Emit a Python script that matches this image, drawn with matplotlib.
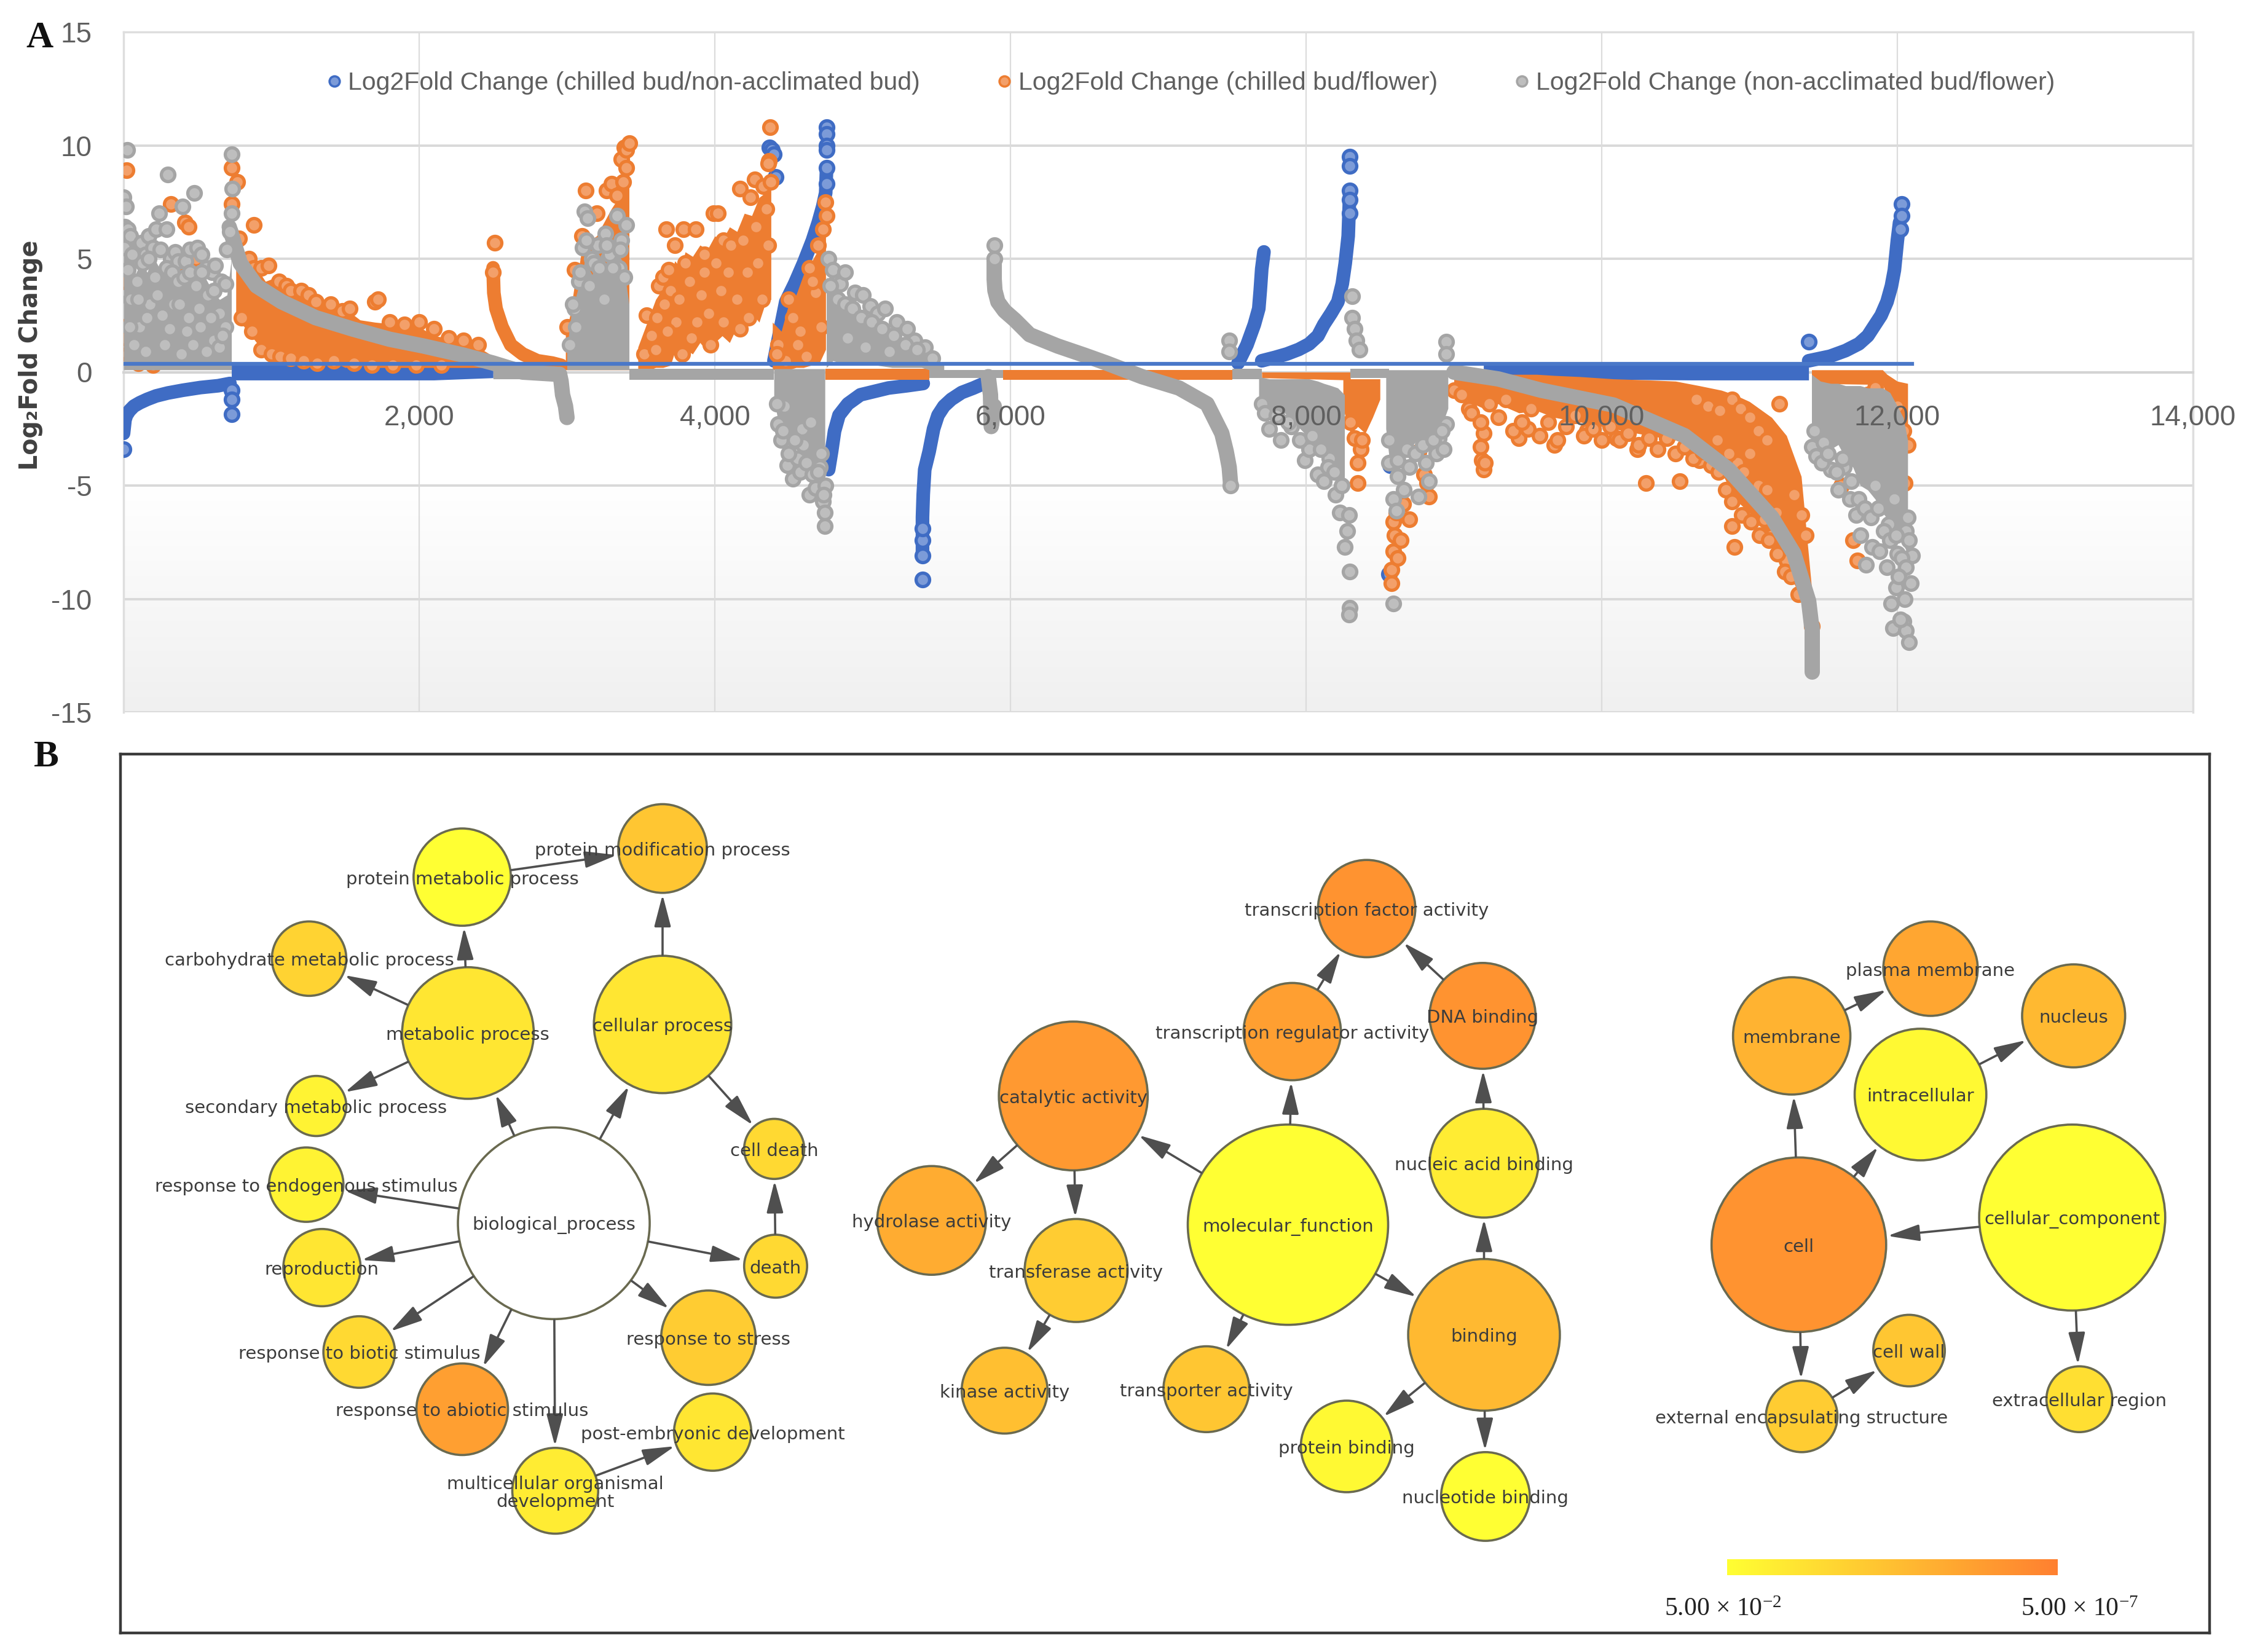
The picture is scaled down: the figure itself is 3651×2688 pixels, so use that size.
import matplotlib
matplotlib.use("Agg")
import matplotlib.pyplot as plt
from matplotlib.colors import LinearSegmentedColormap
from matplotlib.lines import Line2D
from matplotlib.patches import Circle
import numpy as np

W, H = 3651, 2688
plt.rcParams['font.family'] = ['Liberation Sans', 'DejaVu Sans']
plt.rcParams['mathtext.default'] = 'regular'
plt.rcParams['axes.unicode_minus'] = False

# ---------- panel A values ----------
x_ticks = [2000, 4000, 6000, 8000, 10000, 12000, 14000]
y_ticks = [-15, -10, -5, 0, 5, 10, 15]
legend_names = ['Log2Fold Change (chilled bud/non-acclimated bud)',
                'Log2Fold Change (chilled bud/flower)',
                'Log2Fold Change (non-acclimated bud/flower)']

# flat blue line
line_x = [0, 12100]
line_y = [0.37, 0.37]

# blue series
blue_c1_x = [0, 5, 10, 20, 40, 70, 110, 160, 220, 300, 400, 520, 640, 720]
blue_c1_y = [-2.7, -2.4, -2.1, -1.9, -1.7, -1.5, -1.35, -1.2, -1.05, -0.92, -0.8, -0.68, -0.6, -0.5]
blue_c2_x = [4400, 4480, 4540, 4600, 4660, 4700, 4730, 4750, 4755]
blue_c2_y = [0.5, 3.1, 3.9, 4.8, 5.8, 6.6, 7.3, 7.9, 8.8]
blue_c3_x = [4770, 4790, 4810, 4840, 4900, 4985, 5080, 5175, 5300, 5410]
blue_c3_y = [-4.3, -3.5, -2.6, -1.9, -1.4, -1.0, -0.85, -0.7, -0.6, -0.5]
blue_c4_x = [5405, 5405, 5410, 5420, 5450, 5480, 5510, 5550, 5600, 5670, 5750, 5820]
blue_c4_y = [-8.1, -6.4, -5.4, -4.3, -3.5, -2.5, -1.9, -1.5, -1.2, -0.9, -0.7, -0.5]
blue_c5_x = [7540, 7600, 7650, 7680, 7690, 7700, 7715]
blue_c5_y = [0.4, 1.2, 2.1, 2.8, 3.6, 4.55, 5.3]
blue_c6_x = [7700, 7790, 7870, 7950, 8020, 8080, 8120, 8170, 8215, 8245, 8265, 8285, 8295]
blue_c6_y = [0.5, 0.65, 0.8, 1.0, 1.24, 1.6, 2.1, 2.6, 3.1, 3.9, 4.8, 6, 7.9]
blue_c7_x = [11400, 11545, 11650, 11740, 11800, 11840, 11890, 11930, 11960, 11980, 12000, 12015]
blue_c7_y = [0.5, 0.7, 0.95, 1.25, 1.6, 2, 2.5, 3.1, 3.8, 4.5, 5.8, 6.6]
blue_b1_x = [730, 1500, 2100, 2500]
blue_b1_lo = [-0.35, -0.35, -0.35, -0.25]
blue_b1_hi = [0.35, 0.35, 0.35, 0.35]
blue_b2_x = [9200, 9600, 10000, 10600, 11400]
blue_b2_lo = [-0.1, -0.25, -0.32, -0.35, -0.35]
blue_b2_hi = [0.35, 0.35, 0.35, 0.35, 0.35]
blue_pts_x = [0, 730, 730, 730, 4370, 4385, 4400, 4410, 4755, 4755, 4755, 4755, 4755, 4755, 5405, 5405, 5405, 5405,
              8295, 8295, 8295, 8295, 8295, 11400, 12030, 12030, 12020, 8570, 8560]
blue_pts_y = [-3.4, -0.8, -1.2, -1.85, 9.9, 9.8, 9.6, 8.6, 10.8, 10.5, 10.0, 9.8, 9.0, 8.3, -9.15, -8.1, -7.4, -6.9,
              9.5, 9.1, 8.0, 7.6, 7.0, 1.35, 7.4, 6.9, 6.3, -4.1, -8.9]

# orange series
orange_c1_x = [2500, 2505, 2520, 2560, 2620, 2700, 2800, 2900, 2960]
orange_c1_y = [4.6, 3.5, 2.8, 2.0, 1.2, 0.8, 0.5, 0.4, 0.3]
orange_b1_x = [760, 830, 900, 960, 1000, 1060, 1100, 1200, 1300, 1400, 1500, 1600, 1700, 1850, 2000, 2100, 2200, 2300, 2400, 2500, 2600]
orange_b1_lo = [2.4, 1.9, 1.3, 0.9, 1.0, 0.6, 0.8, 0.4, 0.3, 0.5, 0.2, 0.3, 0.2, 0.2, 0.2, 0.2, 0.2, 0.2, 0.2, 0.2, 0.2]
orange_b1_hi = [5.6, 4.8, 4.6, 4.0, 4.1, 3.6, 3.7, 3.3, 3.2, 2.9, 2.8, 2.3, 2.2, 2.1, 2.0, 1.6, 1.5, 1.3, 1.1, 0.7, 0.3]
orange_b2_x = [2990, 3020, 3050, 3080, 3100, 3150, 3200, 3250, 3300, 3340, 3370, 3400, 3420]
orange_b2_lo = [0.1, 0.1, 0.1, 0.1, 0.1, 0.1, 0.1, 0.1, 0.1, 0.1, 0.1, 0.1, 0.1]
orange_b2_hi = [1.6, 2.5, 3.8, 4.6, 5.4, 5.8, 6.0, 6.6, 7.2, 7.6, 8.2, 9.0, 9.2]
orange_b3_x = [3480, 3520, 3560, 3600, 3650, 3700, 3730, 3770, 3800, 3850, 3900, 3950, 4000, 4050, 4100, 4150, 4200, 4250, 4300, 4340, 4380]
orange_b3_lo = [0.1, 0.1, 0.1, 0.2, 0.2, 0.3, 0.9, 0.5, 1.0, 0.8, 1.3, 0.9, 1.3, 1.6, 1.3, 2.0, 1.7, 2.6, 2.2, 3.0, 3.2]
orange_b3_hi = [1.1, 1.8, 2.5, 3.2, 3.7, 4.3, 4.9, 4.6, 5.3, 5.1, 5.6, 5.4, 6.0, 5.8, 6.4, 6.2, 7.0, 6.9, 7.7, 7.9, 8.9]
orange_b4_x = [4390, 4450, 4500, 4550, 4600, 4650, 4700, 4750]
orange_b4_lo = [0.1, 0.1, 0.1, 0.2, 0.2, 0.3, 0.3, 1]
orange_b4_hi = [2.2, 1.8, 3.0, 3.4, 4.3, 4.8, 5.4, 7.5]
orange_b5_x = [4750, 5450]
orange_b5_lo = [-0.35, -0.35]
orange_b5_hi = [0.15, 0.15]
orange_b6_x = [5950, 7500]
orange_b6_lo = [-0.35, -0.35]
orange_b6_hi = [0.1, 0.1]
orange_b7_x = [7700, 8300]
orange_b7_lo = [-0.25, -0.35]
orange_b7_hi = [0, 0]
orange_b8_x = [8250, 8300, 8350, 8400, 8450, 8500]
orange_b8_lo = [-1.6, -2.7, -2.4, -2.7, -2.0, -1.2]
orange_b8_hi = [-0.3, -0.3, -0.3, -0.3, -0.3, -0.3]
orange_b9_x = [9000, 9100, 9200, 9300, 9440, 9560, 9680, 9850, 10080, 10320, 10500, 10660, 10810, 10900, 11000, 11150, 11250, 11350, 11420]
orange_b9_lo = [-0.7, -1.3, -1.6, -1.4, -1.8, -1.7, -2.0, -2.2, -2.5, -2.8, -3.0, -3.4, -4.4, -5.6, -6.2, -7.4, -8.6, -10, -11.4]
orange_b9_hi = [-0.1, -0.1, -0.1, -0.1, -0.1, -0.1, -0.15, -0.2, -0.3, -0.35, -0.4, -0.6, -0.8, -1.0, -1.3, -2.0, -2.8, -4.6, -9.5]
orange_b10_x = [11420, 11900, 11930, 12000, 12070]
orange_b10_lo = [-0.5, -0.55, -1, -2.5, -3.2]
orange_b10_hi = [0.1, 0.1, -0.1, -0.4, -0.5]
orange_pts_x = [20, 320, 415, 440, 490, 350, 10, 0, 10, 30, 60, 100, 200, 730, 730, 770, 780, 880, 850, 880, 930, 980, 1050,
                1100, 1130, 1200, 1250, 1300, 1400, 1480, 1530, 1700, 1720, 1800, 1900, 2000, 2100, 2200, 2300, 2400, 2510, 2500,
                3125, 3000, 3050, 3100, 3200, 3270, 3300, 3340, 3370, 3390, 3400, 3420, 3400, 3380,
                3540, 3620, 3650, 3670, 3690, 3730, 3790, 3800, 3870, 3990, 4020, 3930, 4060, 4170, 4240, 4270, 4330, 4365, 4375,
                4360, 4380, 4500, 4640, 4700, 4730, 4750, 4755, 8300, 8330, 8350, 8350, 8370, 8380,
                8580, 8580, 8590, 8600, 8590, 8610, 8620, 8640, 8655, 8700, 8760, 8800, 8830, 8820,
                9000, 9100, 9200, 9180, 9190, 9200, 9210, 9440, 9500, 9680, 9900, 10100, 10240, 10300, 10530, 10660, 10880, 10900,
                10920, 11000, 11050, 11100, 11150, 11250, 11300, 11200, 11380, 11420, 11350,
                11620, 11700, 11730, 11800, 11850, 12000, 12040, 12070, 12050]
orange_pts_y = [8.9, 7.4, 6.6, 6.4, 5.0, 4.6, 4, 2, 1.5, 0.8, 0.5, 0.4, 0.3, 9, 7.4, 8.4, 5.9, 6.5, 5, 4.6, 4.6, 4.7, 4,
                3.8, 3.6, 3.6, 3.4, 3.1, 3.0, 2.7, 2.8, 3.1, 3.2, 2.2, 2.1, 2.2, 1.9, 1.5, 1.4, 1.2, 5.7, 4.4,
                8, 2, 4.5, 6, 7, 8, 8.3, 7.8, 9.4, 9.9, 9.8, 10.1, 9, 8.4,
                2.5, 3.8, 4.2, 6.3, 4.5, 5.6, 6.3, 4.8, 6.3, 7, 7, 5.2, 5.8, 8.1, 7.7, 8.5, 8.2, 9.3, 10.8,
                9.2, 8.4, 3.2, 4.6, 5.6, 6.3, 7.5, 6.9, -2.2, -2.9, -4.0, -4.9, -3.4, -3.0,
                -9.3, -8.7, -7.9, -7.2, -6.6, -6.2, -8.2, -7.4, -5.8, -6.5, -3.5, -4.5, -5.5, -4.9,
                -0.8, -1.6, -2.7, -3.3, -3.9, -4.3, -4.0, -2.9, -2.5, -3.2, -2.6, -2.9, -3.4, -4.9, -4.8, -3.9, -6.8, -7.7,
                -4.0, -3.6, -5.2, -6.5, -7.2, -8.3, -5.4, -1.4, -7.2, -11.2, -6.3,
                -5, -7.4, -8.3, -1.0, -0.7, -1.5, -2.6, -3.2, -4.9]
# rings inside the dense orange clouds
orange_fill_x = [800, 870, 930, 1000, 1060, 1130, 1220, 1310, 1420, 1560, 1680, 1820, 1980, 2150,
                 3520, 3570, 3610, 3660, 3700, 3740, 3780, 3830, 3880, 3930, 3970, 4010, 4060, 4110, 4150, 4190, 4230, 4280, 4320, 4350,
                 3600, 3680, 3760, 3840, 3910, 3960, 4040, 4090, 4170, 4220, 4290, 4360,
                 4430, 4480, 4530, 4580, 4620, 4680, 4720, 4420, 4560, 4660,
                 9050, 9120, 9180, 9240, 9300, 9350, 9400, 9460, 9520, 9580, 9640, 9700, 9760, 9820, 9880, 9940, 10000, 10060, 10120,
                 10180, 10250, 10320, 10380, 10440, 10500, 10560, 10620, 10680, 10740, 10790, 10840, 10880, 10950, 11010, 11070, 11130,
                 11190, 11240, 11280, 11330, 10780, 10860, 10960, 11060, 11120, 11180,
                 10640, 10720, 10800, 10880, 10940, 11000, 11060, 11120]
orange_fill_y = [2.4, 1.8, 1.0, 0.8, 0.7, 0.6, 0.5, 0.4, 0.5, 0.4, 0.3, 0.3, 0.3, 0.3,
                 0.8, 1.6, 2.4, 3.0, 3.6, 2.2, 0.8, 4.0, 2.2, 4.4, 1.2, 4.8, 2.2, 5.6, 3.2, 5.8, 2.4, 6.4, 3.2, 7.2,
                 1.0, 1.8, 3.2, 1.5, 3.4, 2.6, 3.6, 4.4, 1.9, 4.4, 4.8, 5.6,
                 1.2, 0.5, 2.4, 1.8, 0.7, 3.5, 2.0, 0.8, 1.2, 4.0,
                 -1.0, -1.8, -2.2, -1.4, -2.0, -1.2, -2.6, -2.2, -1.6, -2.8, -2.2, -3.0, -2.4, -1.9, -2.8, -2.5, -3.0, -2.4, -3.0,
                 -2.7, -3.2, -2.9, -3.4, -2.9, -3.6, -3.3, -3.8, -3.5, -4.1, -4.4, -5.2, -5.7, -6.3, -6.6, -7.2, -7.4,
                 -8.0, -8.8, -9.0, -9.8, -3.0, -3.6, -4.4, -5.0, -5.2, -6.2,
                 -1.2, -1.5, -1.7, -1.2, -1.6, -2.0, -2.6, -3.0]

# grey series
grey_c1_x = [715, 790, 900, 1070, 1300, 1550, 1800, 2030, 2300, 2500, 2700, 2950]
grey_c1_y = [6.4, 4.8, 3.8, 3.1, 2.4, 1.9, 1.45, 1.15, 0.75, 0.4, 0.0, -0.1]
grey_c2_x = [5890, 5890, 5895, 5915, 5960, 6030, 6130, 6320, 6500, 6650, 6890, 7140, 7330, 7430, 7460, 7480, 7490]
grey_c2_y = [5.0, 4.1, 3.6, 3.1, 2.7, 2.3, 1.65, 1.15, 0.75, 0.4, -0.2, -0.7, -1.4, -2.7, -3.5, -4.2, -5.0]
grey_c3_x = [9000, 9300, 9590, 10080, 10560, 10860, 11150, 11300, 11400, 11420]
grey_c3_y = [0.0, -0.3, -0.8, -1.45, -2.8, -4.3, -6.4, -8, -10.1, -11.2]
grey_c4_x = [2950, 2960, 2970, 2990, 3000]
grey_c4_y = [-0.1, -0.4, -1.0, -1.5, -2.0]
grey_c5_x = [5850, 5865, 5870, 5890]
grey_c5_y = [-0.2, -1.0, -2.4, -1.5]
grey_c6_x = [11420, 11420, 11420]
grey_c6_y = [-11.2, -12.2, -13.2]
grey_b1_x = [0, 40, 80, 120, 160, 200, 250, 300, 350, 400, 450, 500, 550, 600, 650, 700, 730]
grey_b1_lo = [0.1, 0.1, 0.1, 0.1, 0.1, 0.1, 0.1, 0.1, 0.1, 0.1, 0.1, 0.1, 0.1, 0.1, 0.1, 0.1, 0.1]
grey_b1_hi = [5.2, 4.8, 4.3, 4.9, 4.4, 5.1, 4.5, 5.3, 4.6, 4.3, 4.7, 4.5, 4.2, 3.6, 3.2, 3.4, 5.0]
grey_b2_x = [3000, 3030, 3080, 3120, 3170, 3230, 3280, 3330, 3380, 3420]
grey_b2_lo = [0.1, 0.1, 0.1, 0.1, 0.1, 0.1, 0.1, 0.1, 0.1, 0.1]
grey_b2_hi = [1.0, 2.6, 3.8, 4.9, 4.3, 5.2, 4.6, 5.5, 4.8, 3.0]
grey_b3_x = [2500, 2950]
grey_b3_lo = [-0.3, -0.3]
grey_b3_hi = [0.1, 0.15]
grey_b12_x = [3420, 4400]
grey_b12_lo = [-0.35, -0.35]
grey_b12_hi = [0.15, 0.15]
grey_b4_x = [4400, 4430, 4470, 4500, 4530, 4570, 4600, 4650, 4700, 4745]
grey_b4_lo = [-1.2, -2.2, -2.7, -3.3, -3.6, -3.2, -3.6, -4.0, -4.2, -5.2]
grey_b4_hi = [0.15, 0.15, 0.15, 0.15, 0.15, 0.15, 0.15, 0.15, 0.15, 0.15]
grey_b5_x = [4755, 4800, 4850, 4900, 4950, 5020, 5100, 5200, 5300, 5400, 5450, 5550]
grey_b5_lo = [0.2, 0.5, 0.4, 0.4, 0.3, 0.3, 0.3, 0.2, 0.2, 0.2, 0.1, 0.1]
grey_b5_hi = [4.2, 3.6, 3.2, 2.9, 2.7, 2.4, 2.1, 1.7, 1.3, 1.0, 0.8, 0.3]
grey_b6_x = [5450, 5950]
grey_b6_lo = [-0.25, -0.25]
grey_b6_hi = [0.1, 0.1]
grey_b7_x = [7500, 7700]
grey_b7_lo = [-0.3, -0.3]
grey_b7_hi = [0.15, 0.15]
grey_b8_x = [7680, 7750, 7825, 7900, 8020, 8080, 8120, 8170, 8215, 8260]
grey_b8_lo = [-1.3, -1.6, -1.6, -2.1, -2.9, -3.0, -3.7, -3.8, -4.4, -5.2]
grey_b8_hi = [-0.2, -0.3, -0.3, -0.3, -0.3, -0.4, -0.5, -0.6, -0.7, -1.0]
grey_b9_x = [8300, 8560]
grey_b9_lo = [-0.25, -0.25]
grey_b9_hi = [0.15, 0.15]
grey_b10_x = [8540, 8570, 8600, 8650, 8700, 8750, 8800, 8850, 8900, 8960]
grey_b10_lo = [-2.5, -4.2, -4.8, -3.6, -3.4, -3.0, -3.5, -2.8, -2.7, -1.6]
grey_b10_hi = [0.1, 0.1, 0.1, 0.1, 0.1, 0.1, 0.1, 0.1, 0.1, 0.1]
grey_b11_x = [11420, 11480, 11550, 11600, 11650, 11700, 11750, 11800, 11850, 11900, 11950, 12000, 12040, 12070]
grey_b11_lo = [-2.8, -3.2, -3.4, -3.2, -3.8, -4.2, -5, -5.2, -5.6, -6.2, -6.6, -7.2, -7.6, -8]
grey_b11_hi = [-0.1, -0.4, -0.5, -0.5, -0.6, -0.6, -0.6, -0.7, -0.7, -0.7, -0.9, -1.5, -2, -3]
grey_pts_x = [25, 0, 15, 10, 30, 45, 60, 5, 90, 120, 150, 170, 200, 220, 240, 290, 320, 300, 350, 370, 400, 420, 450, 480, 500,
              530, 560, 600, 620, 660, 690, 700, 720, 730, 735, 730,
              50, 110, 180, 260, 340, 430, 510, 610, 70, 150, 280, 390, 470, 560, 650,
              3020, 3050, 3080, 3105, 3120, 3140, 3170, 3210, 3260, 3290, 3340, 3370, 3400, 3060, 3150, 3250, 3350,
              4430, 4450, 4490, 4530, 4560, 4600, 4640, 4680, 4710, 4730, 4745, 4745, 4720, 4750, 4470, 4590, 4650,
              4770, 4800, 4850, 4880, 4950, 5000, 5050, 5100, 5150, 5230, 5300, 5350, 5420, 5470, 4900, 5020, 5180,
              5890, 5890, 7480, 7480, 7490,
              7700, 7750, 7830, 7900, 7990, 8020, 8080, 8120, 8160, 8200, 8230, 8260, 8280, 8290, 8295, 8295, 8290,
              8310, 8310, 8330, 8340, 8360,
              8560, 8590, 8590, 8610, 8620, 8660, 8700, 8760, 8810, 8830, 8880, 8900, 8930, 8950, 8950, 8950,
              11420, 11450, 11500, 11550, 11600, 11640, 11680, 11720, 11750, 11790, 11830, 11880, 11930, 11960, 11970, 11990,
              12040, 12060, 12080, 12090, 12100, 12060, 12020, 11940, 12000]
grey_pts_y = [9.8, 7.7, 7.3, 6.4, 6.3, 6, 5.3, 5.5, 5, 5.7, 5.2, 6, 5.5, 6.3, 7, 6.3, 5, 8.7, 5.3, 4.9, 7.3, 4.9, 5.4, 7.9, 5.5,
              5.2, 4.6, 4.4, 4.7, 4, 3.9, 5.4, 6.2, 7, 8.1, 9.6,
              3.2, 2, 3, 2.5, 3, 1.8, 2.8, 1.4, 1.2, 0.9, 1.2, 0.8, 1.2, 0.9, 1.1,
              1.2, 2.8, 4, 5.5, 7.1, 6.8, 5, 5.6, 6.1, 5.2, 6.9, 5.8, 6.5, 2, 3.8, 3.2, 4.6,
              -2.3, -3, -4.1, -4.7, -3.8, -3.2, -5.4, -5.1, -4.2, -5.7, -6.2, -6.8, -3.6, -5, -1.5, -2.5, -2.2,
              5, 4.5, 3.9, 4.4, 3.5, 3.4, 2.9, 2.6, 2.8, 2.2, 1.9, 1.4, 1.1, 0.6, 1.5, 1.1, 0.9,
              5.6, 5, 1.4, 0.9, -5,
              -1.4, -2.5, -3, -2.4, -3.9, -3.4, -4.5, -4.8, -3.8, -5.4, -6.2, -7.7, -7, -6.3, -8.8, -10.4, -10.7,
              3.35, 2.4, 1.9, 1.4, 1,
              -4, -5.6, -10.2, -6.1, -3.9, -5.2, -4.2, -5.5, -4, -4.8, -3.6, -2.9, -3.4, -2.3, 1.35, 0.8,
              -3.3, -3.7, -3.1, -4.3, -5.2, -4.2, -5.6, -6.3, -7.2, -8.5, -7.7, -7.9, -8.6, -10.2, -11.3, -9.5,
              -11, -11.4, -11.9, -9.3, -8.1, -7, -10.9, -6.7, -8]
# rings inside the dense grey clouds
grey_fill_x = [30, 60, 90, 130, 170, 210, 250, 290, 330, 370, 410, 450, 490, 530, 570, 610, 650, 690,
               40, 100, 160, 230, 310, 380, 440, 520, 590, 670,
               3040, 3090, 3130, 3180, 3220, 3270, 3310, 3360, 3390,
               4420, 4460, 4500, 4540, 4580, 4620, 4660, 4700, 4735,
               4780, 4830, 4880, 4930, 4990, 5060, 5130, 5210, 5290, 5370,
               7720, 7800, 7880, 7960, 8040, 8100, 8150, 8190, 8240,
               8560, 8620, 8680, 8740, 8790, 8860, 8920,
               11440, 11490, 11530, 11590, 11630, 11690, 11740, 11780, 11820, 11870, 11910, 11950, 11990, 12030, 12060, 12080,
               12010, 12050, 12070, 11980, 11850]
grey_fill_y = [4.5, 5.2, 4.0, 4.8, 5.0, 4.2, 5.4, 4.6, 4.4, 4.0, 4.2, 4.4, 3.8, 4.4, 3.4, 3.6, 2.6, 2.0,
               2.0, 3.2, 2.4, 3.4, 1.9, 3.0, 2.4, 2.0, 2.4, 1.6,
               3.0, 4.4, 5.8, 4.8, 4.6, 5.6, 4.6, 5.4, 4.2,
               -1.4, -2.6, -3.6, -3.0, -4.4, -4.0, -4.5, -4.4, -5.4,
               3.8, 3.2, 3.0, 2.8, 2.4, 2.2, 1.9, 1.6, 1.2, 1.0,
               -1.8, -1.9, -2.2, -3.0, -2.8, -3.4, -4.2, -4.4, -5.0,
               -3.0, -4.6, -3.4, -3.6, -3.2, -3.0, -2.6,
               -2.6, -4.0, -3.6, -4.4, -3.8, -4.8, -5.6, -6.0, -6.4, -6.0, -7.0, -7.4, -7.2, -8.2, -8.6, -7.4,
               -9.0, -10.0, -6.4, -5.6, -5.0]

blue_curves = [(blue_c1_x, blue_c1_y), (blue_c2_x, blue_c2_y), (blue_c3_x, blue_c3_y), (blue_c4_x, blue_c4_y),
               (blue_c5_x, blue_c5_y), (blue_c6_x, blue_c6_y), (blue_c7_x, blue_c7_y)]
blue_bands = [(blue_b1_x, blue_b1_lo, blue_b1_hi), (blue_b2_x, blue_b2_lo, blue_b2_hi)]
orange_bands = [(orange_b1_x, orange_b1_lo, orange_b1_hi), (orange_b2_x, orange_b2_lo, orange_b2_hi),
                (orange_b3_x, orange_b3_lo, orange_b3_hi), (orange_b4_x, orange_b4_lo, orange_b4_hi),
                (orange_b5_x, orange_b5_lo, orange_b5_hi), (orange_b6_x, orange_b6_lo, orange_b6_hi),
                (orange_b7_x, orange_b7_lo, orange_b7_hi), (orange_b8_x, orange_b8_lo, orange_b8_hi),
                (orange_b9_x, orange_b9_lo, orange_b9_hi), (orange_b10_x, orange_b10_lo, orange_b10_hi)]
grey_curves = [(grey_c1_x, grey_c1_y), (grey_c2_x, grey_c2_y), (grey_c3_x, grey_c3_y),
               (grey_c4_x, grey_c4_y), (grey_c5_x, grey_c5_y), (grey_c6_x, grey_c6_y)]
grey_bands = [(grey_b1_x, grey_b1_lo, grey_b1_hi), (grey_b2_x, grey_b2_lo, grey_b2_hi),
              (grey_b3_x, grey_b3_lo, grey_b3_hi), (grey_b4_x, grey_b4_lo, grey_b4_hi),
              (grey_b5_x, grey_b5_lo, grey_b5_hi), (grey_b6_x, grey_b6_lo, grey_b6_hi),
              (grey_b7_x, grey_b7_lo, grey_b7_hi), (grey_b8_x, grey_b8_lo, grey_b8_hi),
              (grey_b9_x, grey_b9_lo, grey_b9_hi), (grey_b10_x, grey_b10_lo, grey_b10_hi),
              (grey_b11_x, grey_b11_lo, grey_b11_hi), (grey_b12_x, grey_b12_lo, grey_b12_hi)]

# ---------- panel B values ----------
node_names = ['biological_process', 'metabolic process', 'protein metabolic process', 'protein modification process',
              'carbohydrate metabolic process', 'secondary metabolic process', 'cellular process', 'cell death', 'death',
              'response to endogenous stimulus', 'reproduction', 'response to biotic stimulus',
              'response to abiotic stimulus', 'response to stress', 'multicellular organismal\ndevelopment',
              'post-embryonic development',
              'catalytic activity', 'hydrolase activity', 'transferase activity', 'kinase activity', 'molecular_function',
              'transcription regulator activity', 'transcription factor activity', 'DNA binding', 'nucleic acid binding',
              'binding', 'transporter activity', 'protein binding', 'nucleotide binding',
              'membrane', 'plasma membrane', 'nucleus', 'intracellular', 'cellular_component', 'cell',
              'external encapsulating structure', 'cell wall', 'extracellular region']
node_x = [387, 327, 323, 463, 216, 221, 463, 541, 542, 214, 225, 251, 323, 495, 388, 498,
          750, 651, 752, 702, 900, 903, 955, 1036, 1037, 1037, 843, 941, 1038,
          1252, 1349, 1449, 1342, 1448, 1257, 1259, 1334, 1453]
node_y = [855, 722, 613, 593, 670, 773, 716, 803, 885, 828, 886, 945, 985, 935, 1042, 1001,
          766, 853, 888, 972, 856, 721, 635, 710, 813, 933, 971, 1011, 1046,
          724, 677, 710, 765, 851, 870, 990, 944, 978]
node_r = [67, 46, 34, 31, 26, 21, 48, 21, 22, 26, 27, 25, 32, 33, 30, 27,
          52, 38, 36, 30, 70, 34, 34, 37, 38, 53, 30, 32, 31,
          41, 33, 36, 46, 65, 61, 25, 25, 23]
# 0 = yellow end of the scale, 1 = orange end, None = not significant (white)
node_level = [None, 0.2, 0.0, 0.45, 0.35, 0.1, 0.2, 0.3, 0.3, 0.1, 0.2, 0.3, 0.75, 0.4, 0.15, 0.2,
              0.8, 0.65, 0.4, 0.5, 0.0, 0.75, 0.85, 0.85, 0.15, 0.55, 0.45, 0.05, 0.0,
              0.6, 0.7, 0.55, 0.05, 0.0, 0.85, 0.4, 0.45, 0.25]
edge_from = [0, 0, 0, 0, 0, 0, 0, 0, 0, 1, 1, 1, 2, 6, 6, 8, 14,
             20, 16, 16, 18, 20, 21, 23, 24, 25, 20, 20, 25, 25,
             33, 34, 34, 29, 32, 34, 35, 33]
edge_to = [1, 6, 9, 10, 11, 12, 14, 13, 8, 2, 4, 5, 3, 3, 7, 7, 15,
           16, 17, 18, 19, 21, 22, 22, 23, 24, 25, 26, 27, 28,
           34, 29, 32, 30, 31, 35, 36, 37]

# ---------- panel A ----------
fig = plt.figure(figsize=(W / 100, H / 100), dpi=100, facecolor='white')


def add_axes_px(left, right, top, bottom):
    return fig.add_axes([left / W, 1 - bottom / H, (right - left) / W, (bottom - top) / H])


def draw_series(ax, curves, bands, px, py, edge, face, z, curve_lw=16):
    for bx_, lo, hi in bands:
        ax.fill_between(bx_, lo, hi, color=edge, lw=0, zorder=z)
    for cx, cy in curves:
        ax.plot(cx, cy, color=edge, lw=curve_lw, solid_capstyle='round', solid_joinstyle='round', zorder=z)
    ax.scatter(px, py, s=250, facecolors=face, edgecolors=edge, linewidths=3.8, zorder=z)


ax = add_axes_px(201, 3568, 52, 1159)
gradient = np.linspace(0, 1, 256).reshape(-1, 1)
ax.imshow(gradient, extent=(0, 14000, -15, -5), aspect='auto', origin='upper', zorder=0,
          cmap=LinearSegmentedColormap.from_list('bg', ['#ffffff', '#f0f0f0']))
ax.set_xlim(0, 14000)
ax.set_ylim(-15, 15)

for sp in ['top', 'right', 'left']:
    ax.spines[sp].set_color('#dedede')
    ax.spines[sp].set_linewidth(2.5)
ax.spines['bottom'].set_position(('data', 0))
ax.spines['bottom'].set_color('#d4d4d4')
ax.spines['bottom'].set_linewidth(3)

ax.set_yticks(y_ticks)
ax.set_xticks(x_ticks)
ax.set_xticklabels(['{:,}'.format(v) for v in x_ticks])
ax.yaxis.grid(True, color='#d9d9d9', lw=2.8, zorder=1)
ax.set_axisbelow(True)
for v in [0] + x_ticks:
    ax.axvline(v, color='#dcdcdc', lw=1.6, zorder=1)
ax.axhline(-15, color='#dcdcdc', lw=3, zorder=1)
ax.tick_params(axis='x', length=0, pad=38, labelsize=33, labelcolor='#5f5f5f')
ax.tick_params(axis='y', length=0, pad=37, labelsize=33, labelcolor='#5f5f5f')
ax.xaxis.set_zorder(8)

draw_series(ax, blue_curves, blue_bands, blue_pts_x, blue_pts_y, '#3f6cc4', '#7c9bd8', 3)
draw_series(ax, [(orange_c1_x, orange_c1_y)], orange_bands, orange_pts_x + orange_fill_x, orange_pts_y + orange_fill_y,
            '#ed7d31', '#f3a06a', 4)
draw_series(ax, grey_curves, grey_bands, grey_pts_x + grey_fill_x, grey_pts_y + grey_fill_y,
            '#a5a5a5', '#bebebe', 5, curve_lw=18)
ax.plot(line_x, line_y, color='#4a78c8', lw=4.5, zorder=6)

handles = [Line2D([], [], ls='', marker='o', ms=12, mfc=f, mec=e, mew=2.6)
           for e, f in [('#3f6cc4', '#7c9bd8'), ('#ed7d31', '#f3a06a'), ('#a5a5a5', '#bebebe')]]
leg = ax.legend(handles, legend_names, ncol=3, frameon=False, loc='center', bbox_to_anchor=(0.516, 0.925),
                fontsize=29.5, labelcolor='#5f5f5f', handlelength=0.5, handletextpad=0.3, columnspacing=3.1)
leg.set_zorder(9)
ax.set_ylabel('Log\u2082Fold Change', family='DejaVu Sans', weight='bold', fontsize=28.5, color='#404040', labelpad=0)
ax.yaxis.set_label_coords((70 - 201) / (3568 - 201), 0.5 - (577 - 605) / 1107)

fig.text(42 / W, 1 - 62 / H, 'A', family='Liberation Serif', weight='bold', fontsize=44, va='center', color='#111111')
fig.text(55 / W, 1 - 1232 / H, 'B', family='Liberation Serif', weight='bold', fontsize=44, va='center', color='#111111')

# ---------- panel B ----------
bx = add_axes_px(196, 3595, 1227, 2657)
bx.set_xticks([])
bx.set_yticks([])
for sp in bx.spines.values():
    sp.set_color('#3a3a3a')
    sp.set_linewidth(3.2)

cmap = LinearSegmentedColormap.from_list('go', ['#ffff33', '#ff8030'])
# colour bar
bar_levels = np.linspace(0, 1, 256).reshape(1, -1)
bx.imshow(bar_levels, extent=(1207, 1438, 1101, 1090), aspect='auto', cmap=cmap, zorder=2)
bx.set_xlim(84.2, 1544)
bx.set_ylim(1141.4, 527)

circles = []
for x, y, r, level in zip(node_x, node_y, node_r, node_level):
    fc = 'white' if level is None else cmap(level)
    c = Circle((x, y), r, facecolor=fc, edgecolor='#6a6a50', lw=2.6, zorder=2)
    bx.add_patch(c)
    circles.append(c)

for a, b in zip(edge_from, edge_to):
    bx.annotate('', xy=(node_x[b], node_y[b]), xytext=(node_x[a], node_y[a]), zorder=3,
                arrowprops=dict(arrowstyle='-|>,head_length=1.0,head_width=0.26', mutation_scale=32,
                                color='#4f4f4f', lw=2.6, patchA=circles[a], patchB=circles[b],
                                shrinkA=2, shrinkB=3))

for x, y, name in zip(node_x, node_y, node_names):
    bx.text(x, y + 1.5, name, ha='center', va='center', family='DejaVu Sans', fontsize=21, color='#3c3c3c',
            linespacing=1.05, zorder=4)

bx.text(1204, 1125, '5.00 \u00d7 10$^{-2}$', ha='center', va='center', family='Liberation Serif', fontsize=30,
        color='#222222')
bx.text(1453, 1125, '5.00 \u00d7 10$^{-7}$', ha='center', va='center', family='Liberation Serif', fontsize=30,
        color='#222222')

fig.savefig('out.png', dpi=100)
